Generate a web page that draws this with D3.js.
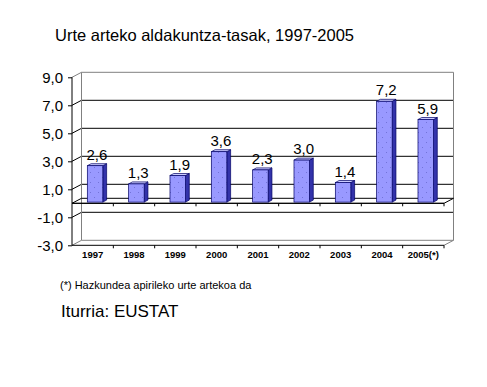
<!DOCTYPE html>
<html>
<head>
<meta charset="utf-8">
<script src="https://cdn.jsdelivr.net/npm/d3@7"></script>
<style>
  body { margin: 0; background: #fff; }
  svg { display: block; font-family: "Liberation Sans", Arial, sans-serif; }
</style>
</head>
<body>
<svg width="487" height="387"></svg>
<script>
var years = ["1997", "1998", "1999", "2000", "2001", "2002", "2003", "2004", "2005(*)"];
var rates = [2.6, 1.3, 1.9, 3.6, 2.3, 3.0, 1.4, 7.2, 5.9];
var yTicks = [-3, -1, 1, 3, 5, 7, 9];

var svg = d3.select("svg");

// 3d offsets (back wall is shifted right and up)
var dx = 9.5, dy = -5;
var barDx = 2.4, barDy = -1.2;   // where the bar front sits in depth
var bdx = 3.8, bdy = -2;         // bar depth

var x = d3.scaleBand().domain(years).range([72, 444]);
var y = d3.scaleLinear().domain([-3, 9]).range([245.3, 77.3]);

// comma decimals and a plain hyphen for negatives
var fmt = function(v) { return d3.format(".1f")(v).replace(".", ",").replace("\u2212", "-"); };

// dotted fill for the bars
var pat = svg.append("defs").append("pattern")
  .attr("id", "dots")
  .attr("patternUnits", "userSpaceOnUse")
  .attr("width", 8).attr("height", 10);
pat.append("rect").attr("width", 8).attr("height", 10).attr("fill", "#9999ff");
pat.append("rect").attr("x", 2).attr("y", 2).attr("width", 1).attr("height", 1).attr("fill", "#7373d9");
pat.append("rect").attr("x", 6).attr("y", 7).attr("width", 1).attr("height", 1).attr("fill", "#7373d9");

// title
svg.append("text")
  .attr("x", 55).attr("y", 41)
  .attr("font-size", 16.5)
  .text("Urte arteko aldakuntza-tasak, 1997-2005");

var x0 = 72, x1 = 444;
var g = svg.append("g");

// gridlines: side wall diagonal + back wall line
yTicks.filter(function(t) { return t > -3 && t < 9; }).forEach(function(t) {
  g.append("line")
    .attr("x1", x0).attr("y1", y(t)).attr("x2", x0 + dx).attr("y2", y(t) + dy)
    .attr("stroke", "#000");
  g.append("line")
    .attr("x1", x0 + dx).attr("y1", y(t) + dy).attr("x2", x1 + dx).attr("y2", y(t) + dy)
    .attr("stroke", "#000");
});

// back wall outline
g.append("path")
  .attr("d", d3.line()([
    [x0, y(9)], [x0 + dx, y(9) + dy], [x1 + dx, y(9) + dy],
    [x1 + dx, y(-3) + dy], [x1, y(-3)]
  ]))
  .attr("fill", "none").attr("stroke", "#808080");
g.append("line")
  .attr("x1", x0 + dx).attr("y1", y(9) + dy).attr("x2", x0 + dx).attr("y2", y(-3) + dy)
  .attr("stroke", "#808080");
g.append("path")
  .attr("d", d3.line()([[x0, y(-3)], [x0 + dx, y(-3) + dy], [x1 + dx, y(-3) + dy]]))
  .attr("fill", "none").attr("stroke", "#808080");

// floor at zero
g.append("path")
  .attr("d", d3.line()([[x0, y(0)], [x0 + dx, y(0) + dy], [x1 + dx, y(0) + dy], [x1, y(0)], [x0, y(0)]]))
  .attr("fill", "none").attr("stroke", "#000");

// category axis lines with ticks (floor edge and bottom edge)
[0, -3].forEach(function(v) {
  g.append("line")
    .attr("x1", x0).attr("y1", y(v)).attr("x2", x1).attr("y2", y(v))
    .attr("stroke", "#000");
  years.forEach(function(d) {
    var tx = x(d) + x.bandwidth();
    g.append("line")
      .attr("x1", tx).attr("y1", y(v)).attr("x2", tx).attr("y2", y(v) + 3)
      .attr("stroke", "#000");
  });
});

// value axis
var yAxis = svg.append("g")
  .attr("transform", "translate(" + x0 + ",0)")
  .call(d3.axisLeft(y).tickValues(yTicks).tickFormat(fmt).tickSize(4).tickPadding(5));
yAxis.select(".domain").attr("stroke", "#000").attr("d", "M0," + y(9) + "V" + y(-3));
yAxis.selectAll(".tick line").attr("stroke", "#000");
yAxis.selectAll(".tick text")
  .attr("font-size", 15).attr("fill", "#000")
  .attr("font-family", "Liberation Sans, Arial, sans-serif");

// category labels
svg.append("g").selectAll("text")
  .data(years).enter()
  .append("text")
  .attr("x", function(d) { return x(d) + x.bandwidth() / 2; })
  .attr("y", 258)
  .attr("text-anchor", "middle")
  .attr("font-size", 9.5)
  .attr("font-weight", "bold")
  .text(function(d) { return d; });

// bars
var barW = x.bandwidth() * 0.375;
var bars = svg.append("g").selectAll("g")
  .data(rates).enter()
  .append("g");

function bx(d, i) { return x(years[i]) + (x.bandwidth() - barW) / 2 + barDx; }

bars.append("path")
  .attr("d", function(d, i) {
    var l = bx(d, i), r = l + barW, t = y(d) + barDy, b = y(0) + barDy;
    return d3.line()([[r, t], [r + bdx, t + bdy], [r + bdx, b + bdy], [r, b]]) + "Z";
  })
  .attr("fill", "#3333aa").attr("stroke", "#000066").attr("stroke-width", 0.7);

bars.append("path")
  .attr("d", function(d, i) {
    var l = bx(d, i), r = l + barW, t = y(d) + barDy;
    return d3.line()([[l, t], [l + bdx, t + bdy], [r + bdx, t + bdy], [r, t]]) + "Z";
  })
  .attr("fill", "#ccccff").attr("stroke", "#000066").attr("stroke-width", 0.7);

bars.append("rect")
  .attr("x", bx)
  .attr("y", function(d) { return y(d) + barDy; })
  .attr("width", barW)
  .attr("height", function(d) { return y(0) - y(d); })
  .attr("fill", "url(#dots)")
  .attr("stroke", "#000066").attr("stroke-width", 0.7);

// value labels
bars.append("text")
  .attr("x", function(d, i) { return bx(d, i) + (barW + bdx) / 2; })
  .attr("y", function(d) { return y(d) + barDy + bdy - 4; })
  .attr("text-anchor", "middle")
  .attr("font-size", 15)
  .text(function(d) { return fmt(d); });

// notes
svg.append("text")
  .attr("x", 60).attr("y", 289)
  .attr("font-size", 11)
  .text("(*) Hazkundea apirileko urte artekoa da");

svg.append("text")
  .attr("x", 61).attr("y", 317)
  .attr("font-size", 17)
  .text("Iturria: EUSTAT");
</script>
</body>
</html>
